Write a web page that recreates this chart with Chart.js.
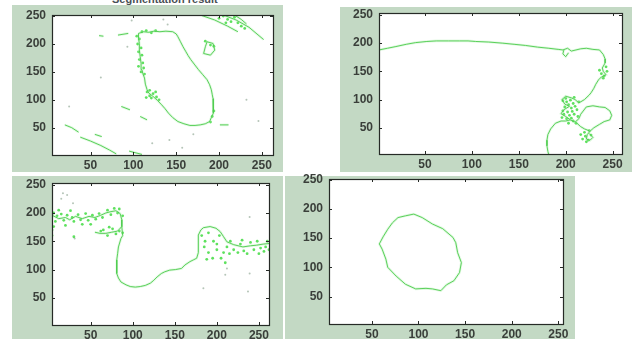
<!DOCTYPE html>
<html><head><meta charset="utf-8">
<script src="https://cdn.jsdelivr.net/npm/chart.js@4.4.1/dist/chart.umd.min.js"></script>
<style>
html,body{margin:0;padding:0;background:#fff;width:641px;height:339px;overflow:hidden;position:relative;font-family:"Liberation Sans",Arial,sans-serif}
.bg{position:absolute;background:#c3d9c4}
canvas{position:absolute}
#title{position:absolute;left:112px;top:-7px;font:bold 11px "Liberation Sans",Arial,sans-serif;color:#4a4f55;white-space:nowrap}
</style></head><body>
<div class="bg" style="left:12px;top:5px;width:271px;height:167px"></div>
<div class="bg" style="left:340px;top:7px;width:292px;height:165px"></div>
<div class="bg" style="left:12px;top:176px;width:271px;height:163px"></div>
<div class="bg" style="left:285px;top:176px;width:290px;height:163px"></div>
<div id="title">Segmentation result</div>
<canvas id="c1"></canvas><canvas id="c2"></canvas><canvas id="c3"></canvas><canvas id="c4"></canvas>
<script>
// ---------- tick labels ----------
const tickValues = [50, 100, 150, 200, 250];

// ---------- panel 1 (top-left) ----------
const p1Outline = [[106,219],[112,222],[118,221],[124,223],[131,222],[138,223],[146,222],[150,218],[152,213],[155,204],[158,195],[161,187],[164,179],[167,172],[171,164],[176,154],[181,145],[186,136],[189,127],[191,118],[192,110],[193,102],[193,94],[194,85],[193,76],[191,68],[189,61],[184,57],[178,55],[172,54],[166,54],[159,57],[152,61],[146,68],[141,76],[137,84],[133,91],[128,99],[123,106],[118,112],[116,118],[114,128],[113,139],[111,147],[110,154],[109,165],[108,177],[107,189],[107,201],[106,210],[106,219]];
const p1Loop = [[186,204],[193,201],[195,189],[190,180],[182,183],[184,195],[186,204]];
const p1Streaks = [
  [[180,251],[195,243],[210,232],[222,222]],
  [[205,252],[220,243],[235,230],[252,208]],
  [[218,252],[226,244],[232,236]],
  [[20,55],[28,50],[36,42]],
  [[38,33],[50,26],[62,18],[72,10],[80,3]],
  [[55,38],[63,34]],
  [[95,8],[110,2]],
  [[82,216],[94,219]],
  [[60,215],[65,214]],
  [[86,88],[96,82]],
  [[108,70],[116,64]],
  [[201,55],[211,55]]
];
const p1Dots = [[104,214],[107,209],[105,200],[109,193],[106,186],[110,180],[107,172],[111,166],[106,160],[112,157],[109,150],[113,146],[116,114],[119,117],[123,111],[127,105],[121,103],[126,114],[119,107],[130,100],[115,104],[110,222],[115,224],[121,220],[126,224],[200,246],[205,250],[210,244],[214,240],[218,248],[222,238],[208,238],[226,232],[230,228],[184,205],[194,196],[190,198],[190,60],[192,70],[194,80]];
const p1Specks = [[62,140],[93,195],[135,244],[122,22],[142,28],[157,14],[232,100],[246,62],[25,88],[170,38],[98,242],[140,235]];

// ---------- panel 2 (top-right) ----------
const p2Edge = [[1,188],[10,191],[19,194],[30,198],[40,201],[52,203],[62,204],[75,204],[87,204],[96,204],[104,203],[118,202],[133,200],[145,198],[157,196],[170,193],[182,191],[192,189],[197,188],[202,191],[206,186],[211,188],[216,190],[222,191],[229,189],[236,188],[240,180],[242,172],[242,165],[239,156],[240,150],[243,144],[238,140],[235,135],[232,127],[230,120],[227,112],[225,108],[220,100],[214,94],[210,100],[206,103],[200,106],[196,100],[199,92],[204,88],[198,82],[195,75],[200,70],[205,64],[210,60],[214,66],[216,74],[222,87],[229,89],[236,87],[242,86],[247,80],[249,72],[247,64],[241,61],[236,56],[230,50],[226,44],[223,38],[222,30],[226,28],[229,33],[225,40]];
const p2Branch = [[205,64],[200,62],[195,62],[189,58],[184,48],[181,38],[180,28],[180,18],[181,8],[182,2]];
const p2Spike = [[198,188],[197,181],[200,176],[203,183]];
const p2Inner = [[212,58],[216,52],[220,48],[226,44]];
const p2Dots = [[197,98],[201,96],[205,99],[208,93],[203,91],[199,87],[206,85],[210,88],[212,82],[207,79],[202,78],[198,74],[204,72],[209,74],[213,70],[206,67],[201,66],[208,62],[211,58],[203,58],[197,80],[200,102],[209,104],[214,96],[196,68],[218,30],[221,35],[224,28],[227,37],[220,42],[216,38],[225,45],[222,25],[238,146],[241,142],[244,150],[236,152],[240,138],[243,158]];

// ---------- panel 3 (bottom-left) ----------
const p3Band = [[4,196],[12,190],[20,192],[25,188],[32,194],[40,190],[48,194],[55,192],[62,196],[68,200],[73,202],[80,204],[85,199],[87,188],[87,176],[82,168],[75,166],[68,164],[61,164],[55,166]];
const p3Edge = [[87,176],[88,160],[86,155],[83,140],[82,128],[81,117],[81,105],[81,93],[83,85],[86,78],[92,73],[97,70],[103,69],[109,70],[115,72],[121,76],[125,81],[129,87],[134,93],[138,96],[144,99],[151,100],[158,102],[162,108],[168,114],[172,117],[176,120],[178,130],[178,140],[178,150],[178,161],[181,170],[184,174],[192,176],[199,173],[204,167],[208,158],[212,149],[220,144],[231,140],[240,142],[247,143],[255,145],[262,146]];
const p3Dots = [[6,200],[8,185],[10,195],[15,198],[18,187],[22,196],[28,192],[30,185],[35,197],[38,188],[44,199],[47,187],[52,196],[56,189],[60,199],[64,192],[70,205],[74,197],[78,208],[82,200],[84,207],[88,195],[65,170],[70,160],[76,172],[80,163],[84,168],[72,175],[62,168],[88,165],[4,170],[4,160],[6,176],[30,158],[40,180],[50,180],[20,178],[12,205],[26,204],[182,160],[186,150],[190,165],[185,140],[190,130],[195,120],[200,135],[196,150],[203,160],[200,145],[208,130],[205,120],[212,140],[215,128],[220,135],[225,130],[228,145],[232,133],[236,128],[240,148],[244,135],[248,150],[252,138],[256,132],[260,150],[258,140],[216,150],[210,112],[188,118],[230,152],[250,128],[262,135]];
const p3Specks = [[17,235],[29,217],[31,155],[184,67],[239,193],[239,93],[237,61],[212,102],[210,91],[15,225],[22,232]];

// ---------- panel 4 (bottom-right) ----------
const p4Contour = [[95,191],[86,188],[78,185],[72,176],[67,165],[62,152],[58,140],[61,131],[65,114],[67,100],[76,85],[86,71],[97,63],[108,64],[115,63],[124,60],[130,70],[138,77],[144,91],[146,108],[142,125],[140,142],[137,151],[126,166],[115,174],[104,185],[95,191]];

// ---------- panel layout (chart-area pixel boxes and axis ranges) ----------
const panels = [
  {id:'c1', area:[52,15,273,155], xr:[5,263], yr:[1,252], lines:[p1Outline,p1Loop,...p1Streaks], dots:p1Dots, specks:p1Specks},
  {id:'c2', area:[379,13,622,154], xr:[1,260], yr:[3.5,253.5], lines:[p2Edge,p2Branch,p2Spike,p2Inner], dots:p2Dots, specks:[]},
  {id:'c3', area:[52,183,269,325], xr:[4,262], yr:[2,253], lines:[p3Band,p3Edge], dots:p3Dots, specks:p3Specks},
  {id:'c4', area:[329,179,563,324], xr:[4,255], yr:[3,251], lines:[p4Contour], dots:[], specks:[]}
];

const toPts = a => a.map(([x,y]) => ({x, y}));
const PADL = 50, PADT = 20, PADR = 20, PADB = 25;

const framePlugin = {
  id: 'frame',
  beforeDatasetsDraw(chart) {
    const {ctx, chartArea: a} = chart;
    ctx.save();
    ctx.fillStyle = '#ffffff';
    ctx.fillRect(a.left, a.top, a.right - a.left, a.bottom - a.top);
    ctx.restore();
  },
  afterDatasetsDraw(chart) {
    const {ctx, chartArea: a, scales: {x, y}} = chart;
    ctx.save();
    ctx.strokeStyle = '#262a26';
    ctx.lineWidth = 1.2;
    ctx.strokeRect(Math.round(a.left) + 0.5, Math.round(a.top) + 0.5, Math.round(a.right - a.left), Math.round(a.bottom - a.top));
    ctx.lineWidth = 1;
    ctx.beginPath();
    tickValues.forEach(v => {
      const px = Math.round(x.getPixelForValue(v)) + 0.5;
      ctx.moveTo(px, a.bottom); ctx.lineTo(px, a.bottom - 3);
      ctx.moveTo(px, a.top); ctx.lineTo(px, a.top + 3);
      const py = Math.round(y.getPixelForValue(v)) + 0.5;
      ctx.moveTo(a.left, py); ctx.lineTo(a.left + 3, py);
      ctx.moveTo(a.right, py); ctx.lineTo(a.right - 3, py);
    });
    ctx.stroke();
    ctx.restore();
  }
};

const tickFont = {family: '"Liberation Sans", Arial, sans-serif', size: 12, weight: 'bold'};

panels.forEach(p => {
  const [l, t, r, b] = p.area;
  const cv = document.getElementById(p.id);
  const w = (r - l) + PADL + PADR, h = (b - t) + PADT + PADB;
  cv.width = w; cv.height = h;
  cv.style.left = (l - PADL) + 'px'; cv.style.top = (t - PADT) + 'px';
  cv.style.width = w + 'px'; cv.style.height = h + 'px';

  const datasets = [];
  p.specks.length && datasets.push({data: toPts(p.specks), pointRadius: 1, pointBackgroundColor: 'rgba(120,150,125,0.55)', pointBorderWidth: 0});
  p.lines.forEach(poly => {
    datasets.push({data: toPts(poly), showLine: true, borderColor: 'rgba(160,235,160,0.3)', borderWidth: 2.6, pointRadius: 0, tension: 0});
    datasets.push({data: toPts(poly), showLine: true, borderColor: 'rgba(40,190,40,0.9)', borderWidth: 1, pointRadius: 0, tension: 0});
  });
  p.dots.length && datasets.push({data: toPts(p.dots), pointRadius: 1.4, pointBackgroundColor: 'rgba(40,215,40,0.75)', pointBorderWidth: 0});

  new Chart(cv, {
    type: 'scatter',
    data: {datasets},
    options: {
      responsive: false, animation: false, devicePixelRatio: 1, events: [],
      layout: {padding: {left: 0, top: PADT, right: PADR, bottom: 0}},
      plugins: {legend: {display: false}, tooltip: {enabled: false}, title: {display: false}},
      scales: {
        x: {
          type: 'linear', min: p.xr[0], max: p.xr[1],
          grid: {display: false, drawTicks: false}, border: {display: false},
          afterBuildTicks: s => { s.ticks = tickValues.map(v => ({value: v})); },
          afterFit: s => { s.height = PADB; },
          ticks: {font: tickFont, color: '#3a3f3a', padding: 3, maxRotation: 0, autoSkip: false}
        },
        y: {
          type: 'linear', min: p.yr[0], max: p.yr[1],
          grid: {display: false, drawTicks: false}, border: {display: false},
          afterBuildTicks: s => { s.ticks = tickValues.map(v => ({value: v})); },
          afterFit: s => { s.width = PADL; },
          ticks: {font: tickFont, color: '#3a3f3a', padding: 6, autoSkip: false}
        }
      }
    },
    plugins: [framePlugin]
  });
});
</script>
</body></html>
